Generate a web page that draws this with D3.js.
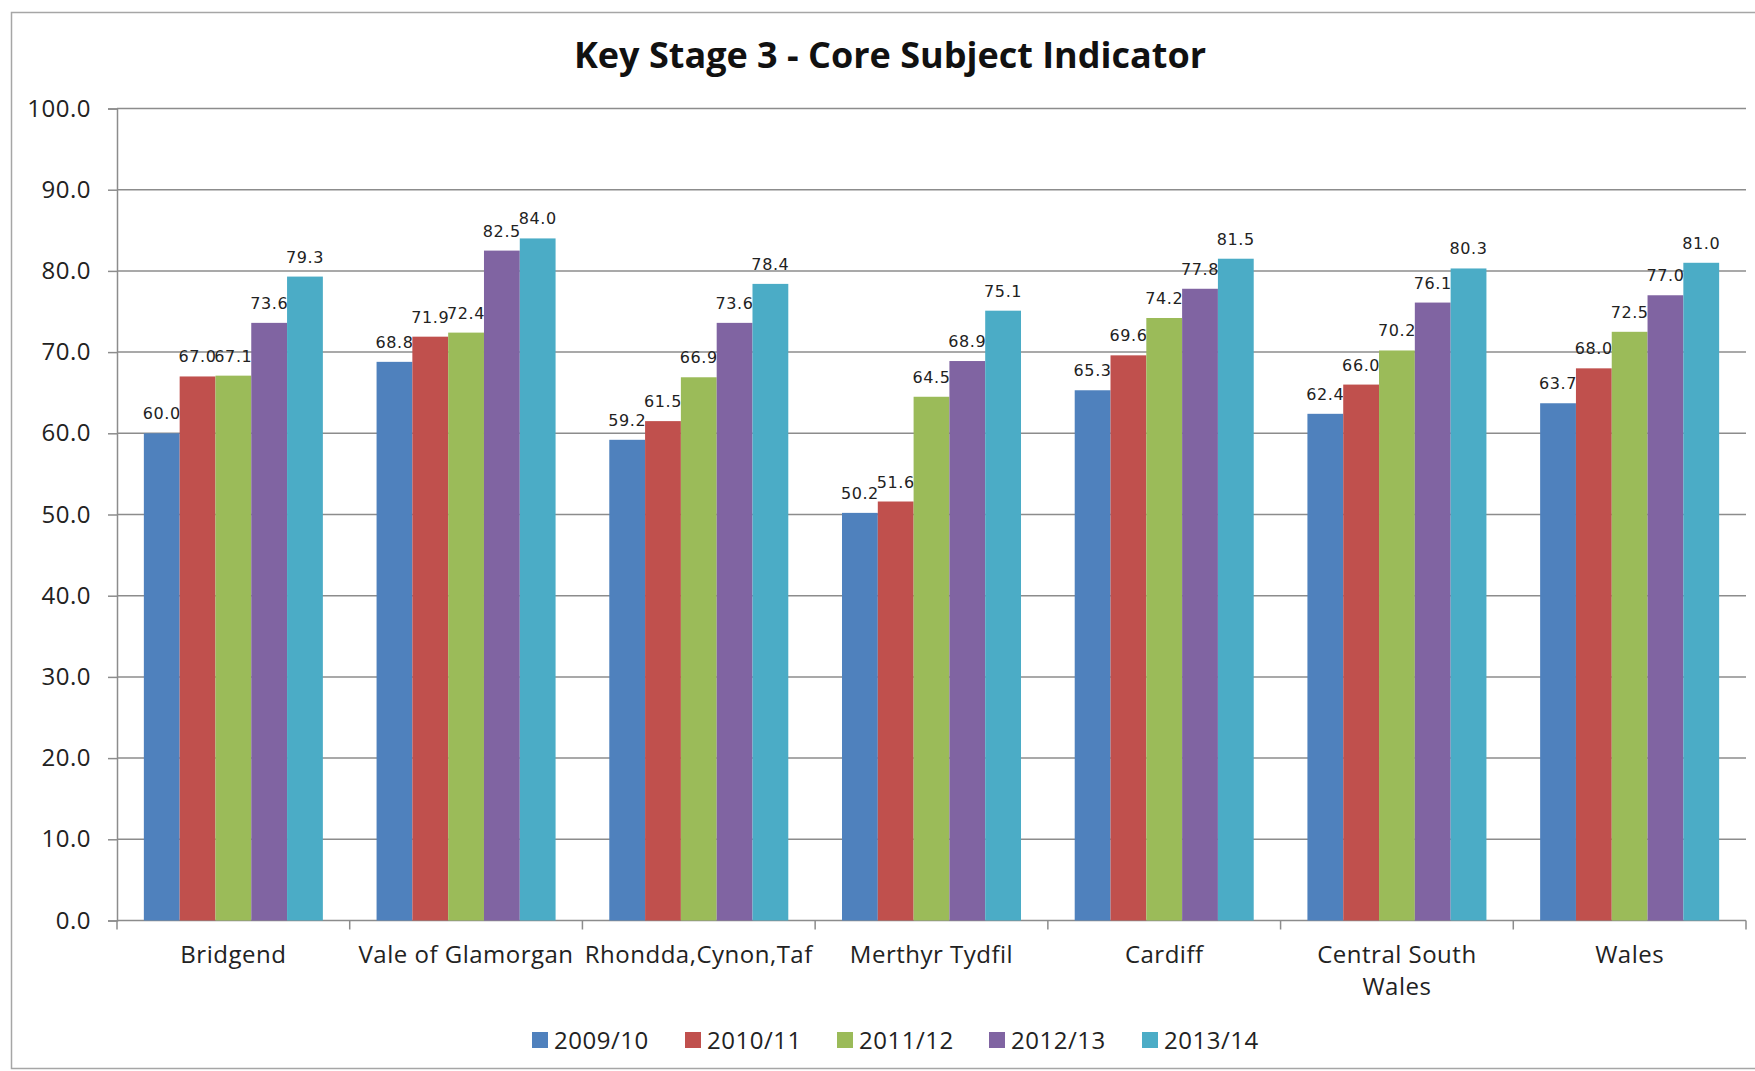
<!DOCTYPE html>
<html>
<head>
<meta charset="utf-8">
<script src="https://d3js.org/d3.v7.min.js"></script>
<style>
  body { margin: 0; background: #fff; }
  .title-text { font-family: "Open Sans", Lato, sans-serif; font-weight: bold; font-size: 36px; fill: #111; }
  .axis-text { font-family: "Open Sans", Lato, sans-serif; font-size: 24px; letter-spacing: 0.5px; fill: #222; }
  .val-label { font-family: "DejaVu Sans", sans-serif; font-size: 16px; letter-spacing: 0.6px; fill: #222; }
</style>
</head>
<body>
<div class="bar-chart"></div>
<script>
const WIDTH = 1755;
const HEIGHT = 1071;

const categories = ["Bridgend", "Vale of Glamorgan", "Rhondda,Cynon,Taf", "Merthyr Tydfil", "Cardiff", "Central South Wales", "Wales"];
const years = ["2009/10", "2010/11", "2011/12", "2012/13", "2013/14"];

const v200910 = [60.0, 68.8, 59.2, 50.2, 65.3, 62.4, 63.7];
const v201011 = [67.0, 71.9, 61.5, 51.6, 69.6, 66.0, 68.0];
const v201112 = [67.1, 72.4, 66.9, 64.5, 74.2, 70.2, 72.5];
const v201213 = [73.6, 82.5, 73.6, 68.9, 77.8, 76.1, 77.0];
const v201314 = [79.3, 84.0, 78.4, 75.1, 81.5, 80.3, 81.0];

const yTicks = [0, 10, 20, 30, 40, 50, 60, 70, 80, 90, 100];

const colors = ["#4f81bd", "#c0504d", "#9bbb59", "#8064a2", "#4bacc6"];

const seriesValues = [v200910, v201011, v201112, v201213, v201314];

const PLOT = {left: 117, right: 1746, top: 108.5, bottom: 920.5};

var svg = d3.select('.bar-chart')
    .append('svg')
    .attr('width', WIDTH)
    .attr('height', HEIGHT);

// outer chart border (runs off the right edge like the original)
svg.append("rect")
    .attr("x", 11.5).attr("y", 12.5)
    .attr("width", 1800).attr("height", 1056)
    .style("fill", "none")
    .style("stroke", "#a6a6a6")
    .style("stroke-width", 1.5);

var x = d3.scaleBand()
    .domain(categories)
    .range([PLOT.left, PLOT.right])
    .paddingInner(0)
    .paddingOuter(0);

var barW = x.bandwidth() / 6.5;

var xs = d3.scaleBand()
    .domain(years)
    .range([barW * 0.75, x.bandwidth() - barW * 0.75]);

var y = d3.scaleLinear()
    .domain([0, 100])
    .range([PLOT.bottom, PLOT.top]);

function createTitle() {
    svg.append("text")
        .attr("class", "title-text")
        .attr("x", 890)
        .attr("y", 68)
        .attr("text-anchor", "middle")
        .text("Key Stage 3 - Core Subject Indicator");
}

function createYAxis() {
    var yAxis = d3.axisLeft(y)
        .tickValues(yTicks)
        .tickSize(9)
        .tickPadding(17)
        .tickFormat(d3.format(".1f"));
    var g = svg.append("g")
        .attr("transform", "translate(" + PLOT.left + ",0)")
        .call(yAxis);
    g.select(".domain").attr("stroke", "#8c8c8c").attr("stroke-width", 1.5);
    g.selectAll(".tick line").attr("stroke", "#8c8c8c").attr("stroke-width", 1.5);
    g.selectAll(".tick text").attr("class", "axis-text");

    // gridlines
    svg.append("g").selectAll("line").data(yTicks.filter(d => d > 0)).enter().append("line")
        .attr("x1", PLOT.left).attr("x2", PLOT.right)
        .attr("y1", d => y(d)).attr("y2", d => y(d))
        .style("stroke", "#8c8c8c")
        .style("stroke-width", 1.5);
}

function createXAxis() {
    var g = svg.append("g");
    g.append("line")
        .attr("x1", PLOT.left).attr("x2", PLOT.right)
        .attr("y1", y(0)).attr("y2", y(0))
        .style("stroke", "#8c8c8c").style("stroke-width", 1.5);
    var edges = categories.map(c => x(c)).concat([x(categories[categories.length - 1]) + x.bandwidth()]);
    g.selectAll(".divider").data(edges).enter().append("line")
        .attr("x1", d => d).attr("x2", d => d)
        .attr("y1", y(0)).attr("y2", y(0) + 9)
        .style("stroke", "#8c8c8c").style("stroke-width", 1.5);

    var labels = g.selectAll(".cat").data(categories).enter().append("text")
        .attr("class", "axis-text")
        .attr("text-anchor", "middle")
        .attr("x", d => x(d) + x.bandwidth() / 2)
        .attr("y", 963)
        .text(d => d);

    // wrap labels that don't fit in their band (only where there is a space to break at)
    labels.each(function(d) {
        var t = d3.select(this);
        if (d.indexOf(" ") > 0 && this.getComputedTextLength() > x.bandwidth() * 0.97) {
            var words = d.split(" ");
            var first = words.slice(0, words.length - 1).join(" ");
            var last = words[words.length - 1];
            t.text(null);
            t.append("tspan").attr("x", t.attr("x")).text(first);
            t.append("tspan").attr("x", t.attr("x")).attr("dy", 32).text(last);
        }
    });
}

function createBars() {
    var groups = svg.selectAll(".series").data(seriesValues).enter().append("g")
        .attr("class", "series");

    groups.each(function(vals, i) {
        var g = d3.select(this);
        g.selectAll("rect").data(vals).enter().append("rect")
            .attr("x", (d, j) => x(categories[j]) + xs(years[i]))
            .attr("y", d => y(d))
            .attr("width", xs.bandwidth())
            .attr("height", d => y(0) - y(d))
            .style("fill", colors[i]);
    });

    groups.each(function(vals, i) {
        var g = d3.select(this);
        g.selectAll("text").data(vals).enter().append("text")
            .attr("class", "val-label")
            .attr("text-anchor", "middle")
            .attr("x", (d, j) => x(categories[j]) + xs(years[i]) + xs.bandwidth() / 2)
            .attr("y", d => y(d) - 14)
            .text(d => d3.format(".1f")(d));
    });
}

function createLegend() {
    var positions = [532, 685, 837, 989, 1142];
    var items = svg.selectAll(".legend").data(years).enter().append("g")
        .attr("transform", (d, i) => "translate(" + positions[i] + ",1040)");
    items.append("rect")
        .attr("x", 0).attr("y", -8)
        .attr("width", 16).attr("height", 16)
        .style("fill", (d, i) => colors[i]);
    items.append("text")
        .attr("class", "axis-text")
        .attr("x", 22)
        .attr("y", 9)
        .text(d => d);
}

createYAxis();
createXAxis();
createBars();
createTitle();
createLegend();
</script>
</body>
</html>
